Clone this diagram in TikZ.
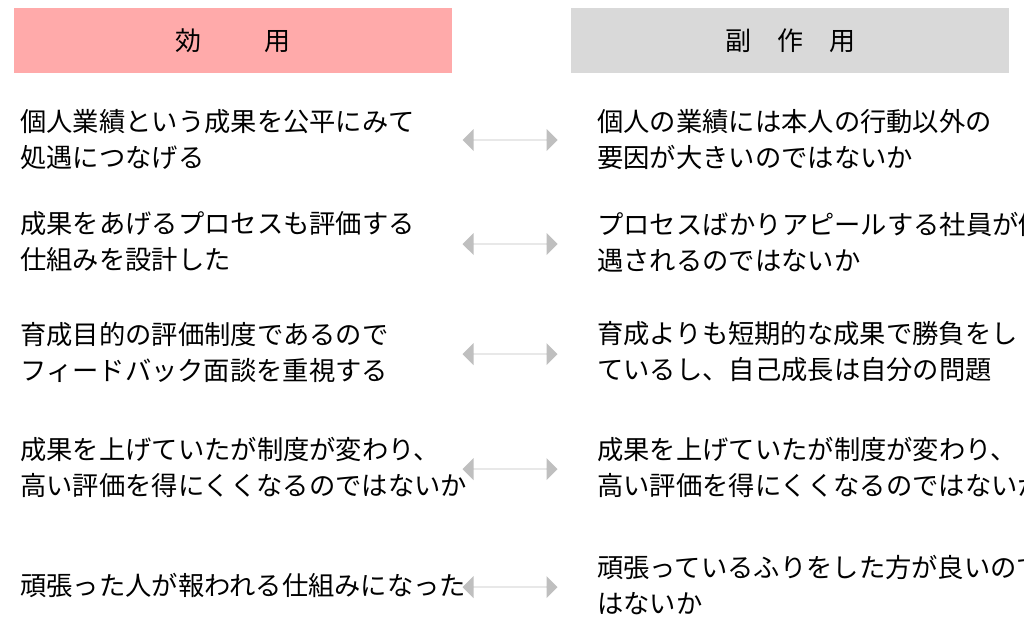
\documentclass[tikz,border=0pt]{standalone}
\usepackage{fontspec}
\newfontfamily\jp{Noto Sans CJK JP}
\usetikzlibrary{shapes.arrows}
\definecolor{merit}{RGB}{255,170,170}
\definecolor{demerit}{RGB}{217,217,217}
\definecolor{arrowgray}{RGB}{191,191,191}
\tikzset{every picture/.style={line width=0.75pt}}
\tikzset{
  headbox/.style={inner sep=0pt,minimum width=438pt,minimum height=65pt,font=\jp\fontsize{26}{30}\selectfont},
  itemtext/.style={anchor=west,inner sep=0pt,align=left,font=\jp\fontsize{26.3}{36}\selectfont},
  swap/.style={double arrow,fill=arrowgray,draw=none,minimum width=22pt,minimum height=95pt,double arrow head extend=10pt,inner sep=0pt}
}
\begin{document}
\begin{tikzpicture}[x=1pt,y=1pt,yscale=-1]
\useasboundingbox (0,0) rectangle (1024,630);

% headers
\node [headbox,fill=merit] (merit) at (233,40.5) {効\hspace{2.4em}用};
\node [headbox,fill=demerit] (demerit) at (790,40.5) {副\hspace{1em}作\hspace{1em}用};

% left column
\node [itemtext] (l1) at (20,140) {個人業績という成果を公平にみて\\処遇につなげる};
\node [itemtext] (l2) at (20,242) {成果をあげるプロセスも評価する\\仕組みを設計した};
\node [itemtext] (l3) at (20,352) {育成目的の評価制度であるので\\フィードバック面談を重視する};
\node [itemtext] (l4) at (20,467) {成果を上げていたが制度が変わり、\\高い評価を得にくくなるのではないか};
\node [itemtext] (l5) at (20,585) {頑張った人が報われる仕組みになった};

% right column
\node [itemtext] (r1) at (597,140) {個人の業績には本人の行動以外の\\要因が大きいのではないか};
\node [itemtext] (r2) at (597,242) {プロセスばかりアピールする社員が優\\遇されるのではないか};
\node [itemtext] (r3) at (597,352) {育成よりも短期的な成果で勝負をし\\ているし、自己成長は自分の問題};
\node [itemtext] (r4) at (597,467) {成果を上げていたが制度が変わり、\\高い評価を得にくくなるのではないか};
\node [itemtext] (r5) at (597,585) {頑張っているふりをした方が良いので\\はないか};

% arrows
\foreach \i/\y in {1/140,2/244,3/354,4/469,5/587}
  \node [swap] (a\i) at (510,\y) {};

\end{tikzpicture}
\end{document}
